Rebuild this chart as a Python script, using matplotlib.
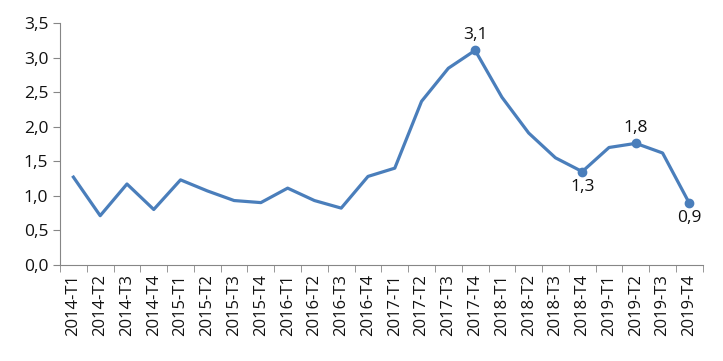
import numpy as np
import matplotlib.pyplot as plt
from matplotlib.ticker import FuncFormatter, FixedLocator

plt.rcParams['font.family'] = ['Open Sans', 'DejaVu Sans']

quarters = ["2014-T1", "2014-T2", "2014-T3", "2014-T4",
            "2015-T1", "2015-T2", "2015-T3", "2015-T4",
            "2016-T1", "2016-T2", "2016-T3", "2016-T4",
            "2017-T1", "2017-T2", "2017-T3", "2017-T4",
            "2018-T1", "2018-T2", "2018-T3", "2018-T4",
            "2019-T1", "2019-T2", "2019-T3", "2019-T4"]
values = [1.27, 0.71, 1.17, 0.80, 1.23, 1.07, 0.93, 0.90,
          1.11, 0.93, 0.82, 1.28, 1.40, 2.37, 2.85, 3.11,
          2.43, 1.91, 1.55, 1.35, 1.70, 1.76, 1.62, 0.89]
# points with a marker and a label: index, text, above/below
labelled = [(15, "3,1", "above"), (19, "1,3", "below"),
            (21, "1,8", "above"), (23, "0,9", "below")]

LINE = '#4A7EBB'
AXC = '#868686'

fig = plt.figure(figsize=(7.23, 3.61), dpi=100)
ax = fig.add_axes([0.083, 0.267, 0.889, 0.668])

x = np.arange(len(values))
ax.plot(x, values, color=LINE, lw=2.3, solid_joinstyle='round', zorder=3)

for i, txt, pos in labelled:
    ax.plot(x[i], values[i], 'o', color=LINE, ms=6, zorder=4)
    if pos == "above":
        ax.annotate(txt, (x[i], values[i]), xytext=(0, 5), textcoords='offset points',
                    ha='center', va='bottom', fontsize=12.5, color='#111111')
    else:
        ax.annotate(txt, (x[i], values[i]), xytext=(0, -5), textcoords='offset points',
                    ha='center', va='top', fontsize=12.5, color='#111111')

ax.set_xlim(-0.5, len(values) - 0.5)
ax.set_ylim(0, 3.5)
ax.set_yticks(np.arange(0, 3.51, 0.5))
ax.yaxis.set_major_formatter(FuncFormatter(lambda v, p: ("%.1f" % v).replace('.', ',')))

ax.set_xticks(x)
ax.set_xticklabels(quarters, rotation=90, fontsize=12, color='#111111')
ax.tick_params(axis='x', which='major', length=0, pad=7)
ax.xaxis.set_minor_locator(FixedLocator(np.arange(-0.5, len(values), 1.0)))
ax.tick_params(axis='x', which='minor', length=5, color=AXC, direction='out')
ax.tick_params(axis='y', length=5, color=AXC, labelsize=12.5, labelcolor='#111111')

for s in ['top', 'right']:
    ax.spines[s].set_visible(False)
for s in ['left', 'bottom']:
    ax.spines[s].set_color(AXC)

fig.savefig('out.png', dpi=100)
